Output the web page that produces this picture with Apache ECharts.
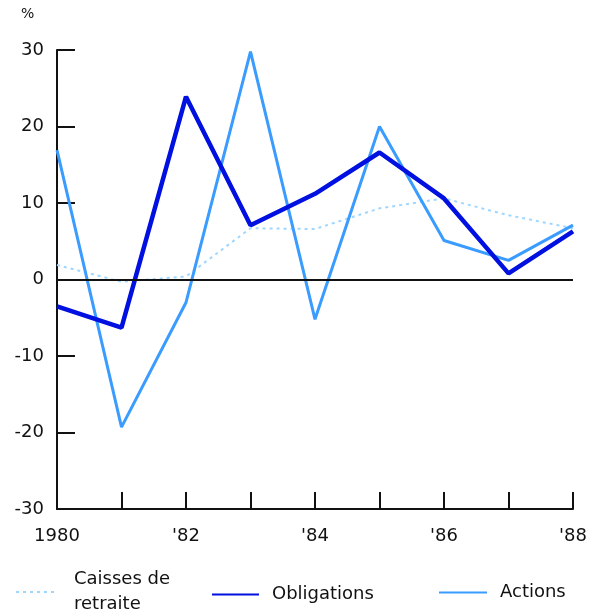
<!DOCTYPE html>
<html>
<head>
<meta charset="utf-8">
<script src="https://cdn.jsdelivr.net/npm/echarts@6/dist/echarts.min.js"></script>
<style>html,body{margin:0;padding:0;background:#fff}#c{width:592px;height:616px}</style>
</head>
<body>
<div id="c"></div>
<script>
var years = [1980, 1981, 1982, 1983, 1984, 1985, 1986, 1987, 1988];
var caisses = [1.9, -0.3, 0.4, 6.7, 6.6, 9.3, 10.6, 8.4, 6.7];
var obligations = [-3.5, -6.3, 23.9, 7.1, 11.2, 16.6, 10.6, 0.8, 6.3];
var actions = [16.9, -19.3, -3.0, 29.8, -5.2, 20.0, 5.1, 2.5, 7.1];
var yTicks = [-30, -20, -10, 0, 10, 20, 30];

var FONT = 'DejaVu Sans';
var TXT = '#111';
function pairs(vals){ return years.map(function(y,i){ return [y, vals[i]]; }); }

var legendCommon = {
  itemHeight: 10,
  itemStyle: {opacity: 0},
  lineStyle: {opacity: 1},
  textStyle: {fontFamily: FONT, fontSize: 18, color: TXT, lineHeight: 25}
};
function mkLegend(name, left, top, w, pad){
  return Object.assign({}, legendCommon, {
    data: [name], left: left, top: top, itemWidth: w, orient: 'horizontal',
    textStyle: Object.assign({}, legendCommon.textStyle, {padding: [0,0,0,pad]})
  });
}

var chart = echarts.init(document.getElementById('c'), null, {renderer:'canvas'});
chart.setOption({
  animation: false,
  backgroundColor: '#ffffff',
  title: {text: '%', left: 16, top: 2, textStyle: {fontFamily: FONT, fontSize: 14, fontWeight: 'normal', color: TXT}},
  grid: {left: 57, right: 19, top: 50, bottom: 107},
  xAxis: {
    type: 'value', min: years[0], max: years[years.length-1], interval: 1,
    axisLine: {onZero: false, lineStyle: {color: '#111', width: 2}},
    axisTick: {inside: true, length: 17, lineStyle: {color: '#111', width: 2}},
    splitLine: {show: false},
    axisLabel: {
      margin: 18, color: TXT, fontFamily: FONT, fontSize: 18,
      formatter: function(v){ if (v === years[0]) return String(v); return (v % 2 === 0) ? "'" + String(v).slice(2) : ''; }
    }
  },
  yAxis: {
    type: 'value', min: yTicks[0], max: yTicks[yTicks.length-1], interval: 10,
    axisLine: {show: true, lineStyle: {color: '#111', width: 2}},
    axisTick: {show: true, inside: true, length: 18, lineStyle: {color: '#111', width: 2}},
    splitLine: {show: false},
    axisLabel: {margin: 13, color: TXT, fontFamily: FONT, fontSize: 18}
  },
  legend: [
    mkLegend('Caisses de\nretraite', 10, 562, 42, 11),
    mkLegend('Obligations', 206, 577, 47, 8),
    mkLegend('Actions', 433, 575, 48, 8)
  ],
  series: [
    {
      name: 'Caisses de\nretraite', type: 'line', data: pairs(caisses), symbol: 'none', z: 2,
      lineStyle: {color: '#9fd6ff', width: 2, type: [3, 4]}, itemStyle: {color: '#9fd6ff'},
      markLine: {silent: true, symbol: 'none', label: {show: false},
        lineStyle: {color: '#111', width: 2, type: 'solid'}, data: [{yAxis: 0}]}
    },
    {
      name: 'Actions', type: 'line', data: pairs(actions), symbol: 'none', z: 3,
      lineStyle: {color: '#3b9cff', width: 3}, itemStyle: {color: '#3b9cff'}
    },
    {
      name: 'Obligations', type: 'line', data: pairs(obligations), symbol: 'none', z: 4,
      lineStyle: {color: '#0010e0', width: 4.5}, itemStyle: {color: '#0010e0'}
    }
  ]
});
</script>
</body>
</html>
